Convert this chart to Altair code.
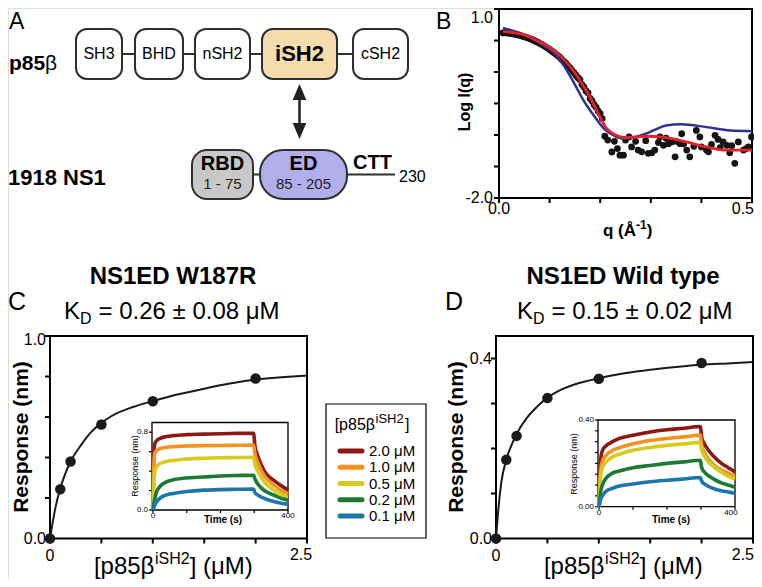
import altair as alt
import pandas as pd

FONT = "Liberation Sans"
W, H = 746, 571
M = 8  # page margin: reference pixel -> chart pixel


def P(v):
    return v - M


ONE = pd.DataFrame({"k": [0]})


def label(text, x, y, size, weight="normal", align="left", baseline="middle", angle=None):
    kw = dict(text=text, font=FONT, fontSize=size, fontWeight=weight,
              align=align, baseline=baseline, color="black")
    if angle is not None:
        kw["angle"] = angle
    return alt.Chart(ONE).mark_text(**kw).encode(x=alt.value(P(x)), y=alt.value(P(y)))


# ------------------------------------------------------------------ data
# Panel A: domain architecture
p85_domains = ["SH3", "BHD", "nSH2", "iSH2", "cSH2"]
ns1_domains = ["RBD", "ED"]
ns1_ranges = ["1 - 75", "85 - 205"]
ns1_length = "230"

# Panel B: SAXS profile (q in 1/A, log I)
saxs_q = [0.008, 0.012, 0.016, 0.020, 0.024, 0.028, 0.032, 0.036, 0.040, 0.044,
          0.048, 0.052, 0.056, 0.060, 0.064, 0.068, 0.072, 0.076, 0.080, 0.084,
          0.088, 0.092, 0.096, 0.100, 0.104, 0.108, 0.112, 0.116, 0.120, 0.124,
          0.128, 0.132, 0.136, 0.140, 0.144, 0.148, 0.152, 0.156, 0.160, 0.164,
          0.168, 0.172, 0.176, 0.180, 0.184, 0.188, 0.192, 0.196, 0.200, 0.204,
          0.209, 0.215, 0.223, 0.228, 0.234, 0.239, 0.246, 0.250, 0.257, 0.262,
          0.270, 0.275, 0.282, 0.290, 0.295, 0.302, 0.308, 0.315, 0.318, 0.325,
          0.330, 0.335, 0.341, 0.348, 0.350, 0.358, 0.361, 0.365, 0.371, 0.377,
          0.385, 0.390, 0.397, 0.400, 0.410, 0.414, 0.420, 0.427, 0.433, 0.437,
          0.443, 0.450, 0.456, 0.460, 0.466, 0.473, 0.483, 0.488, 0.493, 0.499]
saxs_logI = [0.62, 0.63, 0.62, 0.615, 0.615, 0.605, 0.60, 0.59, 0.585, 0.575,
             0.565, 0.555, 0.545, 0.53, 0.52, 0.505, 0.49, 0.475, 0.455, 0.44,
             0.42, 0.40, 0.38, 0.36, 0.335, 0.31, 0.285, 0.26, 0.235, 0.20,
             0.17, 0.14, 0.10, 0.07, 0.03, -0.01, -0.05, -0.09, -0.12, -0.20,
             -0.24, -0.30, -0.33, -0.42, -0.46, -0.52, -0.56, -0.62, -0.66, -0.74,
             -1.02, -1.08, -1.27, -1.10, -1.215, -1.32, -1.32, -1.08, -1.03, -1.19,
             -1.10, -1.24, -1.267, -1.09, -1.29, -1.283, -1.24, -1.12, -1.03, -1.163,
             -1.05, -1.137, -1.11, -1.346, -1.10, -1.137, -0.98, -1.14, -1.24, -1.346,
             -1.18, -0.927, -1.03, -1.19, -1.24, -1.267, -1.15, -1.005, -1.07, -1.20,
             -1.11, -1.163, -1.283, -1.17, -1.45, -1.11, -1.24, -1.22, -1.19, -1.03]
fit_red_q = [0.008, 0.05, 0.08, 0.11, 0.13, 0.147, 0.165, 0.18, 0.20, 0.213,
             0.226, 0.25, 0.29, 0.33, 0.37, 0.41, 0.45, 0.50]
fit_red = [0.64, 0.59, 0.48, 0.33, 0.18, 0.02, -0.20, -0.40, -0.72, -0.90,
           -0.98, -1.04, -1.02, -1.04, -1.11, -1.19, -1.24, -1.24]
fit_blue_q = [0.008, 0.05, 0.08, 0.11, 0.13, 0.15, 0.167, 0.19, 0.21, 0.23,
              0.246, 0.27, 0.29, 0.31, 0.33, 0.36, 0.41, 0.457, 0.50]
fit_blue = [0.70, 0.59, 0.46, 0.29, 0.08, -0.20, -0.45, -0.72, -0.92, -1.02,
            -1.06, -1.03, -0.98, -0.91, -0.85, -0.83, -0.875, -0.93, -0.94]
b_xticks = [0, 0.1, 0.2, 0.3, 0.4, 0.5]
b_xlabels = ["0.0", "0.5"]
b_yticks = [-2, -1.5, -1, -0.5, 0, 0.5, 1]
b_ylabels = ["-2.0", "1.0"]

# Panels C / D: steady-state binding
conc = [0, 0.1, 0.2, 0.5, 1.0, 2.0]
w187r_resp = [0, 0.243, 0.38, 0.563, 0.678, 0.79]
wt_resp = [0, 0.175, 0.228, 0.312, 0.355, 0.39]
curve_c_conc = [0, 0.05, 0.1, 0.15, 0.2, 0.3, 0.4, 0.5, 0.6, 0.8, 1.0,
                1.25, 1.5, 1.75, 2.0, 2.25, 2.5]
curve_c = [0, 0.145, 0.248, 0.322, 0.38, 0.46, 0.525, 0.571, 0.605, 0.648, 0.678,
           0.712, 0.74, 0.765, 0.785, 0.796, 0.805]
curve_d_conc = [0, 0.025, 0.05, 0.1, 0.15, 0.2, 0.3, 0.4, 0.5, 0.6, 0.8, 1.0,
                1.25, 1.5, 1.75, 2.0, 2.25, 2.5]
curve_d = [0, 0.07, 0.122, 0.175, 0.207, 0.232, 0.268, 0.293, 0.313, 0.327, 0.345,
           0.356, 0.367, 0.375, 0.381, 0.386, 0.389, 0.392]
conc_ticks = [0, 0.5, 1.0, 1.5, 2.0, 2.5]
conc_labels = ["0", "2.5"]
c_yticks = [0, 0.2, 0.4, 0.6, 0.8, 1.0]
c_ylabels = ["0.0", "1.0"]
d_yticks = [0, 0.1, 0.2, 0.3, 0.4]
d_ylabels = ["0.0", "0.4"]

# Insets: sensorgrams
inset_series = ["2.0 μM", "1.0 μM", "0.5 μM", "0.2 μM", "0.1 μM"]
inset_colors = ["#8c1a14", "#f6921e", "#d5cc1f", "#1c7a33", "#1d77a8"]
time_s = [0, 2, 5, 10, 20, 40, 60, 100, 150, 200, 250, 298, 302, 310, 320, 330, 340, 360, 380, 400]
w187r_kin = {
    "2.0 μM": [0, 0.55, 0.68, 0.71, 0.735, 0.755, 0.765, 0.775, 0.78, 0.785, 0.788, 0.79,
               0.66, 0.56, 0.47, 0.40, 0.355, 0.30, 0.25, 0.205],
    "1.0 μM": [0, 0.42, 0.58, 0.61, 0.63, 0.645, 0.652, 0.658, 0.662, 0.664, 0.666, 0.667,
               0.58, 0.49, 0.41, 0.35, 0.31, 0.25, 0.20, 0.165],
    "0.5 μM": [0, 0.22, 0.375, 0.44, 0.477, 0.50, 0.51, 0.525, 0.532, 0.537, 0.54, 0.542,
               0.47, 0.40, 0.34, 0.29, 0.255, 0.20, 0.16, 0.13],
    "0.2 μM": [0, 0.05, 0.11, 0.18, 0.24, 0.29, 0.31, 0.33, 0.34, 0.35, 0.355, 0.358,
               0.32, 0.27, 0.23, 0.20, 0.18, 0.15, 0.12, 0.10],
    "0.1 μM": [0, 0.02, 0.05, 0.08, 0.12, 0.155, 0.17, 0.19, 0.204, 0.21, 0.213, 0.215,
               0.18, 0.155, 0.135, 0.12, 0.105, 0.085, 0.07, 0.06],
}
wt_kin = {
    "2.0 μM": [0, 0.12, 0.22, 0.26, 0.28, 0.30, 0.315, 0.33, 0.345, 0.355, 0.362, 0.37,
               0.32, 0.29, 0.265, 0.245, 0.228, 0.20, 0.18, 0.16],
    "1.0 μM": [0, 0.09, 0.17, 0.21, 0.235, 0.26, 0.272, 0.29, 0.305, 0.315, 0.322, 0.33,
               0.28, 0.25, 0.225, 0.205, 0.19, 0.17, 0.155, 0.14],
    "0.5 μM": [0, 0.07, 0.14, 0.18, 0.205, 0.23, 0.242, 0.26, 0.273, 0.283, 0.29, 0.297,
               0.26, 0.235, 0.21, 0.195, 0.18, 0.16, 0.14, 0.128],
    "0.2 μM": [0, 0.03, 0.07, 0.10, 0.13, 0.155, 0.165, 0.18, 0.19, 0.20, 0.207, 0.214,
               0.18, 0.16, 0.145, 0.135, 0.125, 0.11, 0.10, 0.09],
    "0.1 μM": [0, 0.015, 0.035, 0.05, 0.07, 0.085, 0.095, 0.105, 0.115, 0.122, 0.128, 0.135,
               0.118, 0.105, 0.095, 0.088, 0.082, 0.074, 0.068, 0.062],
}
time_ticks = [0, 100, 200, 300, 400]
time_labels = ["0", "400"]
ci_yticks = [0, 0.2, 0.4, 0.6, 0.8]
ci_ylabels = ["0.0", "0.8"]
di_yticks = [0, 0.05, 0.1, 0.15, 0.2, 0.25, 0.3, 0.35, 0.4]
di_ylabels = ["0.00", "0.40"]

# ------------------------------------------------------------------ layout (reference pixels)
top_x0 = [76, 135, 195, 262, 353]
top_x1 = [122, 183, 250, 337, 408]
top_fill = ["white", "white", "white", "#f6dbad", "white"]
top_y0, top_y1 = 29, 79
bot_x0 = [192, 260]
bot_x1 = [253, 347]
bot_fill = ["#c8c8c8", "#b2aeec"]
bot_y0, bot_y1 = 150, 199
ctt_end = 395
LINE = "#2f2f2f"

# ------------------------------------------------------------------ panel A
XA = alt.Scale(domain=[M, W + M], range=[0, W])
YA = alt.Scale(domain=[M, H + M], range=[0, H])


def ax(f):
    return alt.X(f, type="quantitative", scale=XA, axis=None)


def ay(f):
    return alt.Y(f, type="quantitative", scale=YA, axis=None)


df_top = pd.DataFrame({"name": p85_domains, "x0": top_x0, "x1": top_x1,
                       "y0": top_y0, "y1": top_y1, "fill": top_fill})
df_top["cx"] = (df_top.x0 + df_top.x1) / 2
df_top["cy"] = (top_y0 + top_y1) / 2
df_bot = pd.DataFrame({"name": ns1_domains, "rng": ns1_ranges, "x0": bot_x0, "x1": bot_x1,
                       "y0": bot_y0, "y1": bot_y1, "fill": bot_fill})
df_bot["cx"] = (df_bot.x0 + df_bot.x1) / 2
df_bot["ny"] = bot_y0 + 14
df_bot["ry"] = bot_y0 + 34
df_links = pd.DataFrame({"x0": [top_x1[0], bot_x1[0]], "x1": [top_x0[-1], ctt_end],
                         "y": [(top_y0 + top_y1) / 2, (bot_y0 + bot_y1) / 2]})
arrow_x = (top_x0[3] + top_x1[3]) / 2
df_shaft = pd.DataFrame({"x": [arrow_x], "y0": [top_y1 + 13], "y1": [bot_y0 - 19]})
df_head = pd.DataFrame({"x": [arrow_x, arrow_x], "y": [top_y1 + 13, bot_y0 - 19], "d": ["up", "down"]})

links = alt.Chart(df_links).mark_rule(strokeWidth=2, color=LINE).encode(
    x=ax("x0"), x2=alt.X2("x1"), y=ay("y"))
boxes_top = alt.Chart(df_top).mark_rect(cornerRadius=11, stroke=LINE, strokeWidth=2).encode(
    x=ax("x0"), x2=alt.X2("x1"), y=ay("y0"), y2=alt.Y2("y1"), fill=alt.Fill("fill:N", scale=None))
box_rbd = alt.Chart(df_bot[df_bot.name == "RBD"]).mark_rect(cornerRadius=15, stroke=LINE, strokeWidth=2).encode(
    x=ax("x0"), x2=alt.X2("x1"), y=ay("y0"), y2=alt.Y2("y1"), fill=alt.Fill("fill:N", scale=None))
box_ed = alt.Chart(df_bot[df_bot.name == "ED"]).mark_rect(cornerRadius=23, stroke=LINE, strokeWidth=2).encode(
    x=ax("x0"), x2=alt.X2("x1"), y=ay("y0"), y2=alt.Y2("y1"), fill=alt.Fill("fill:N", scale=None))
shaft = alt.Chart(df_shaft).mark_rule(strokeWidth=2.5, color="#222222").encode(
    x=ax("x"), y=ay("y0"), y2=alt.Y2("y1"))
head_up = alt.Chart(df_head[df_head.d == "up"]).mark_point(
    shape="M-0.85,1L0,-1L0.85,1Z", size=256, filled=True, opacity=1, color="#222222").encode(
    x=ax("x"), y=ay("y"))
head_down = alt.Chart(df_head[df_head.d == "down"]).mark_point(
    shape="M-0.85,-1L0,1L0.85,-1Z", size=256, filled=True, opacity=1, color="#222222").encode(
    x=ax("x"), y=ay("y"))
top_names = alt.Chart(df_top[df_top.name != "iSH2"]).mark_text(fontSize=16, font=FONT, color="black").encode(
    x=ax("cx"), y=ay("cy"), text="name:N")
ish2_name = alt.Chart(df_top[df_top.name == "iSH2"]).mark_text(fontSize=22, fontWeight="bold", font=FONT, color="black").encode(
    x=ax("cx"), y=ay("cy"), text="name:N")
bot_names = alt.Chart(df_bot).mark_text(fontSize=20, fontWeight="bold", font=FONT, color="black").encode(
    x=ax("cx"), y=ay("ny"), text="name:N")
bot_rngs = alt.Chart(df_bot).mark_text(fontSize=15, font=FONT, color="#222222").encode(
    x=ax("cx"), y=ay("ry"), text="rng:N")

panelA = alt.layer(links, boxes_top, box_rbd, box_ed, shaft, head_up, head_down,
                   top_names, ish2_name, bot_names, bot_rngs)
textsA = [
    label("A", 9, 11, 23, baseline="top"),
    label("p85", 9, 70, 21, "bold", baseline="alphabetic"),
    label("β", 45, 70, 21, baseline="alphabetic"),
    label("1918 NS1", 8, 185, 22, "bold", baseline="alphabetic"),
    label("CTT", 353, 163, 20, "bold"),
    label(ns1_length, 399, 177, 16),
]


# ------------------------------------------------------------------ hand-built axes (through the scales)
def frame(x0, x1, y0, y1, xs, ys, width=2, fill=None):
    df = pd.DataFrame({"x0": [x0], "x1": [x1], "y0": [y0], "y1": [y1]})
    if fill:
        mk = alt.Chart(df).mark_rect(fill=fill, stroke="black", strokeWidth=width)
    else:
        mk = alt.Chart(df).mark_rect(fillOpacity=0, stroke="black", strokeWidth=width)
    return mk.encode(x=alt.X("x0:Q", scale=xs, axis=None), x2=alt.X2("x1"),
                     y=alt.Y("y0:Q", scale=ys, axis=None), y2=alt.Y2("y1"))


def xticks(values, xs, y_px, size=5, width=2):
    return alt.Chart(pd.DataFrame({"v": values})).mark_rule(strokeWidth=width, color="black").encode(
        x=alt.X("v:Q", scale=xs, axis=None), y=alt.value(P(y_px)), y2=alt.value(P(y_px) + size))


def yticks(values, ys, x_px, size=5, width=2):
    return alt.Chart(pd.DataFrame({"v": values})).mark_rule(strokeWidth=width, color="black").encode(
        y=alt.Y("v:Q", scale=ys, axis=None), x=alt.value(P(x_px) - size), x2=alt.value(P(x_px)))


def xlab(value, text, xs, y_px, size=16, align="center", dx=0):
    return alt.Chart(pd.DataFrame({"v": [value], "t": [text]})).mark_text(
        fontSize=size, font=FONT, align=align, baseline="middle", color="black", dx=dx).encode(
        x=alt.X("v:Q", scale=xs, axis=None), y=alt.value(P(y_px)), text="t:N")


def ylab(value, text, ys, x_px, size=16, baseline="middle", dy=0):
    return alt.Chart(pd.DataFrame({"v": [value], "t": [text]})).mark_text(
        fontSize=size, font=FONT, align="right", baseline=baseline, color="black", dy=dy).encode(
        y=alt.Y("v:Q", scale=ys, axis=None), x=alt.value(P(x_px)), text="t:N")


# ------------------------------------------------------------------ panel B
B_L, B_R, B_T, B_B = 499, 752, 9, 198
XB = alt.Scale(domain=[0, 0.5], range=[P(B_L), P(B_R)])
YB = alt.Scale(domain=[-2, 1], range=[P(B_B), P(B_T)])
df_saxs = pd.DataFrame({"q": saxs_q, "v": saxs_logI})
b_pts = alt.Chart(df_saxs).mark_circle(size=46, color="#141414", opacity=1).encode(
    x=alt.X("q:Q", scale=XB, axis=None), y=alt.Y("v:Q", scale=YB, axis=None))
b_blue = alt.Chart(pd.DataFrame({"q": fit_blue_q, "v": fit_blue})).mark_line(
    color="#2e3192", strokeWidth=2.5, interpolate="monotone").encode(
    x=alt.X("q:Q", scale=XB, axis=None), y=alt.Y("v:Q", scale=YB, axis=None))
b_red = alt.Chart(pd.DataFrame({"q": fit_red_q, "v": fit_red})).mark_line(
    color="#e62129", strokeWidth=2.8, interpolate="monotone").encode(
    x=alt.X("q:Q", scale=XB, axis=None), y=alt.Y("v:Q", scale=YB, axis=None))
panelB = alt.layer(
    frame(0, 0.5, -2, 1, XB, YB),
    xticks(b_xticks, XB, B_B), yticks(b_yticks, YB, B_L),
    xlab(b_xticks[0], b_xlabels[0], XB, 209),
    xlab(b_xticks[-1], b_xlabels[1], XB, 209, align="right", dx=2),
    ylab(b_yticks[0], b_ylabels[0], YB, 493),
    ylab(b_yticks[-1], b_ylabels[1], YB, 493, baseline="top", dy=1),
    b_pts, b_blue, b_red)
textsB = [
    label("B", 436, 11, 23, baseline="top"),
    label("Log I(q)", 465, 102, 16, "bold", align="center", angle=270),
    label("q (Å", 603, 236, 17, "bold", baseline="alphabetic"),
    label("-1", 636, 229, 12, "bold", baseline="alphabetic"),
    label(")", 646.7, 236, 17, "bold", baseline="alphabetic"),
]

# ------------------------------------------------------------------ colour scale (insets + legend)
CS = alt.Scale(domain=inset_series, range=inset_colors)


def kin_df(kin):
    rows = []
    for s in inset_series:
        for t, v in zip(time_s, kin[s]):
            rows.append({"t": t, "v": v, "series": s})
    return pd.DataFrame(rows)


# ------------------------------------------------------------------ panel C
C_L, C_R, C_T, C_B = 50, 307, 336, 538.5
XC = alt.Scale(domain=[0, 2.5], range=[P(C_L), P(C_R)])
YC = alt.Scale(domain=[0, 1.0], range=[P(C_B), P(C_T)])
c_curve = alt.Chart(pd.DataFrame({"c": curve_c_conc, "r": curve_c})).mark_line(
    color="#1a1a1a", strokeWidth=2, interpolate="monotone").encode(
    x=alt.X("c:Q", scale=XC, axis=None), y=alt.Y("r:Q", scale=YC, axis=None))
c_pts = alt.Chart(pd.DataFrame({"c": conc, "r": w187r_resp})).mark_circle(
    size=110, color="#1a1a1a", opacity=1).encode(
    x=alt.X("c:Q", scale=XC, axis=None), y=alt.Y("r:Q", scale=YC, axis=None))
panelC = alt.layer(
    frame(0, 2.5, 0, 1.0, XC, YC),
    xticks(conc_ticks, XC, C_B), yticks(c_yticks, YC, C_L),
    xlab(conc_ticks[0], conc_labels[0], XC, 556),
    xlab(conc_ticks[-1], conc_labels[1], XC, 555, dx=-6),
    ylab(c_yticks[0], c_ylabels[0], YC, 46),
    ylab(c_yticks[-1], c_ylabels[1], YC, 46, dy=4),
    c_curve, c_pts)

CI_L, CI_R, CI_T, CI_B = 152, 288, 422.5, 510
XCi = alt.Scale(domain=[-3, 400], range=[P(CI_L), P(CI_R)])
YCi = alt.Scale(domain=[0, 0.9], range=[P(CI_B), P(CI_T)])
ci_lines = alt.Chart(kin_df(w187r_kin)).mark_line(strokeWidth=3.6, interpolate="monotone").encode(
    x=alt.X("t:Q", scale=XCi, axis=None), y=alt.Y("v:Q", scale=YCi, axis=None),
    color=alt.Color("series:N", scale=CS, legend=None))
insetC = alt.layer(
    frame(-3, 400, 0, 0.9, XCi, YCi, width=1.3, fill="white"),
    xticks(time_ticks, XCi, CI_B, size=3, width=1.2),
    yticks(ci_yticks, YCi, CI_L, size=3, width=1.2),
    xlab(time_ticks[0], time_labels[0], XCi, 516, size=8),
    xlab(time_ticks[-1], time_labels[1], XCi, 516, size=8),
    ylab(ci_yticks[0], ci_ylabels[0], YCi, 148, size=8),
    ylab(ci_yticks[-1], ci_ylabels[1], YCi, 148, size=8),
    ci_lines)

textsC = [
    label("C", 8, 302, 25),
    label("NS1ED W187R", 173, 277, 24, "bold", align="center"),
    label("K", 80, 318.6, 24, align="right", baseline="alphabetic"),
    label("D", 80, 324, 16, baseline="alphabetic"),
    label("= 0.26 ± 0.08 μM", 98.5, 318.6, 24, baseline="alphabetic"),
    label("Response (nm)", 22, 437, 21, "bold", align="center", angle=270),
    label("[p85β", 154.4, 574, 24, align="right", baseline="alphabetic"),
    label("iSH2", 155, 564, 16, baseline="alphabetic"),
    label("] (μM)", 189.7, 574, 24, baseline="alphabetic"),
    label("Time (s)", 223, 520, 10, "bold", align="center"),
    label("Response (nm)", 135, 466, 9, align="center", angle=270),
]

# ------------------------------------------------------------------ panel D
D_L, D_R, D_T, D_B = 496, 753, 336, 538.5
XD = alt.Scale(domain=[0, 2.5], range=[P(D_L), P(D_R)])
YD = alt.Scale(domain=[0, 0.45], range=[P(D_B), P(D_T)])
d_curve = alt.Chart(pd.DataFrame({"c": curve_d_conc, "r": curve_d})).mark_line(
    color="#1a1a1a", strokeWidth=2, interpolate="monotone").encode(
    x=alt.X("c:Q", scale=XD, axis=None), y=alt.Y("r:Q", scale=YD, axis=None))
d_pts = alt.Chart(pd.DataFrame({"c": conc, "r": wt_resp})).mark_circle(
    size=110, color="#1a1a1a", opacity=1).encode(
    x=alt.X("c:Q", scale=XD, axis=None), y=alt.Y("r:Q", scale=YD, axis=None))
panelD = alt.layer(
    frame(0, 2.5, 0, 0.45, XD, YD),
    xticks(conc_ticks, XD, D_B), yticks(d_yticks, YD, D_L),
    xlab(conc_ticks[0], conc_labels[0], XD, 556),
    xlab(conc_ticks[-1], conc_labels[1], XD, 555, align="right", dx=1),
    ylab(d_yticks[0], d_ylabels[0], YD, 492),
    ylab(d_yticks[-1], d_ylabels[1], YD, 492),
    d_curve, d_pts)

DI_L, DI_R, DI_T, DI_B = 598, 735, 420, 506.7
XDi = alt.Scale(domain=[-3, 400], range=[P(DI_L), P(DI_R)])
YDi = alt.Scale(domain=[0, 0.40], range=[P(DI_B), P(DI_T)])
di_lines = alt.Chart(kin_df(wt_kin)).mark_line(strokeWidth=3.6, interpolate="monotone").encode(
    x=alt.X("t:Q", scale=XDi, axis=None), y=alt.Y("v:Q", scale=YDi, axis=None),
    color=alt.Color("series:N", scale=CS, legend=None))
insetD = alt.layer(
    frame(-3, 400, 0, 0.40, XDi, YDi, width=1.3, fill="white"),
    xticks(time_ticks, XDi, DI_B, size=3, width=1.2),
    yticks(di_yticks, YDi, DI_L, size=3, width=1.2),
    xlab(time_ticks[0], time_labels[0], XDi, 513, size=8),
    xlab(time_ticks[-1], time_labels[1], XDi, 513, size=8, dx=-4),
    ylab(di_yticks[0], di_ylabels[0], YDi, 594, size=8),
    ylab(di_yticks[-1], di_ylabels[1], YDi, 594, size=8),
    di_lines)

textsD = [
    label("D", 445, 302, 25),
    label("NS1ED Wild type", 623, 277, 24, "bold", align="center"),
    label("K", 533, 318.6, 24, align="right", baseline="alphabetic"),
    label("D", 533, 324, 16, baseline="alphabetic"),
    label("= 0.15 ± 0.02 μM", 551.5, 318.6, 24, baseline="alphabetic"),
    label("Response (nm)", 457, 437, 21, "bold", align="center", angle=270),
    label("[p85β", 604.4, 574, 24, align="right", baseline="alphabetic"),
    label("iSH2", 605, 564, 16, baseline="alphabetic"),
    label("] (μM)", 639.7, 574, 24, baseline="alphabetic"),
    label("Time (s)", 671, 520, 10, "bold", align="center"),
    label("Response (nm)", 574, 464, 9, align="center", angle=270),
]

# ------------------------------------------------------------------ legend
YL = alt.Scale(type="point", domain=inset_series, range=[P(451), P(516)], padding=0)
df_leg = pd.DataFrame({"series": inset_series})
leg_lines = alt.Chart(df_leg).mark_rule(strokeWidth=5, strokeCap="round").encode(
    x=alt.value(P(340)), x2=alt.value(P(362)),
    y=alt.Y("series:N", scale=YL, axis=None),
    color=alt.Color("series:N", scale=CS, legend=None))
leg_text = alt.Chart(df_leg).mark_text(align="left", fontSize=15, font=FONT, color="black").encode(
    x=alt.value(P(369)), y=alt.Y("series:N", scale=YL, axis=None), text="series:N")
legend = alt.layer(leg_lines, leg_text)
leg_box = alt.Chart(ONE).mark_rect(fillOpacity=0, stroke="black", strokeWidth=1.2).encode(
    x=alt.value(P(326)), x2=alt.value(P(426)), y=alt.value(P(404)), y2=alt.value(P(538)))
textsL = [
    label("[p85β", 375, 430, 16, align="right", baseline="alphabetic"),
    label("iSH2", 375.5, 423, 13, baseline="alphabetic"),
    label("]", 405, 430, 16, baseline="alphabetic"),
]

# ------------------------------------------------------------------ assemble
chart = alt.layer(
    panelA, *textsA,
    panelB, *textsB,
    panelC, insetC, *textsC,
    panelD, insetD, *textsD,
    leg_box, legend, *textsL,
).resolve_scale(x="independent", y="independent").properties(
    width=W, height=H, padding=0, autosize=alt.AutoSizeParams(type="none")
).configure_view(stroke=None).configure(font=FONT)

chart.save("out.html", embed_options={"renderer": "svg", "actions": False})
